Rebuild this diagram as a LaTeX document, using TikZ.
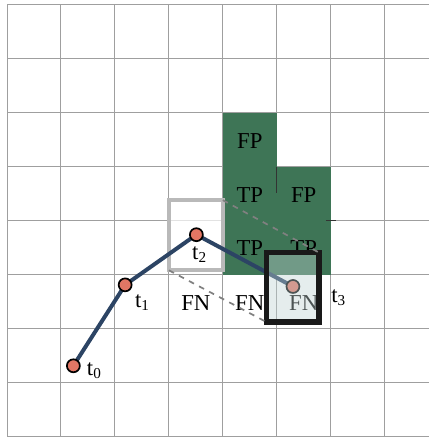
\documentclass[tikz,border=0pt]{standalone}
\usepackage{fontspec}
\setmainfont{Liberation Serif}
\usepackage{tikz}
\usetikzlibrary{positioning}
\definecolor{cellgreen}{RGB}{62,117,86}
\definecolor{trackblue}{RGB}{44,68,100}
\definecolor{dotred}{RGB}{226,118,100}
\definecolor{boxfill}{RGB}{190,210,210}

\begin{document}
\begin{tikzpicture}[
    gridline/.style={gray!75,line width=0.5pt},
    celltext/.style={font=\fontsize{12}{14}\selectfont,inner sep=0pt},
    tlabel/.style={font=\fontsize{12}{14}\selectfont,inner sep=1pt},
    dot/.style={circle,draw=black,line width=0.9pt,fill=dotred,minimum size=0.24cm,inner sep=0pt},
    prevbox/.style={draw=gray!55,line width=2pt,fill=white,fill opacity=0.7,minimum width=1cm,minimum height=1.3cm,outer sep=0pt,inner sep=0pt},
    curbox/.style={draw=black!90,line width=3pt,fill=boxfill,fill opacity=0.4,minimum width=0.97cm,minimum height=1.29cm,outer sep=0pt,inner sep=0pt},
    shiftline/.style={black!50,dashed,line width=0.9pt}
]
    \useasboundingbox (-0.13,-0.01) rectangle (7.83,8.09);

    % Grid
    \foreach \x in {0,...,7}
        \draw[gridline] (\x,0) -- (\x,8);
    \foreach \y in {0,...,8}
        \draw[gridline] (0,\y) -- (7.83,\y);

    % Green cells
    \fill[cellgreen] (4,5) rectangle (5,6);
    \fill[cellgreen] (4,3) rectangle (6,5);
    \draw[black!80,line width=0.5pt] (5,5) -- (5,4.52);
    \draw[black!80,line width=0.5pt] (5.91,4) -- (6.1,4);

    % Track points
    \coordinate (p0) at (1.23,1.31);
    \coordinate (p1) at (2.19,2.81);
    \coordinate (p2) at (3.51,3.74);
    \coordinate (p3) at (5.30,2.78);

    % Box at t2
    \node[prevbox] (box2) at (3.5,3.73) {};

    % Cell labels
    \node[celltext] (fp1) at (4.5,5.47) {FP};
    \node[celltext] (tp1) at (4.5,4.47) {TP};
    \node[celltext] (fp2) at (5.5,4.47) {FP};
    \node[celltext] (tp2) at (4.5,3.49) {TP};
    \node[celltext] (tp3) at (5.5,3.49) {TP};
    \node[celltext] (fn1) at (3.5,2.48) {FN};
    \node[celltext] (fn2) at (4.5,2.48) {FN};
    \node[celltext] (fn3) at (5.5,2.48) {FN};

    % Track
    \draw[trackblue,line width=2.1pt] (p0) -- (p1) -- (p2) -- (p3);
    \node[dot] (t0) at (p0) {};
    \node[dot] (t1) at (p1) {};
    \node[dot] (t2) at (p2) {};
    \node[dot] (t3) at (p3) {};

    \node[tlabel] (l0) at (1.62,1.22) {t\textsubscript{0}};
    \node[tlabel] (l1) at (2.51,2.48) {t\textsubscript{1}};
    \node[tlabel] (l2) at (3.57,3.37) {t\textsubscript{2}};
    \node[tlabel] (l3) at (6.15,2.57) {t\textsubscript{3}};

    % Box at t3
    \node[curbox] (box3) at (5.295,2.765) {};
    \draw[shiftline] (box2.north east) -- (box3.north east);
    \draw[shiftline] (box2.south west) -- (box3.south west);
\end{tikzpicture}
\end{document}
